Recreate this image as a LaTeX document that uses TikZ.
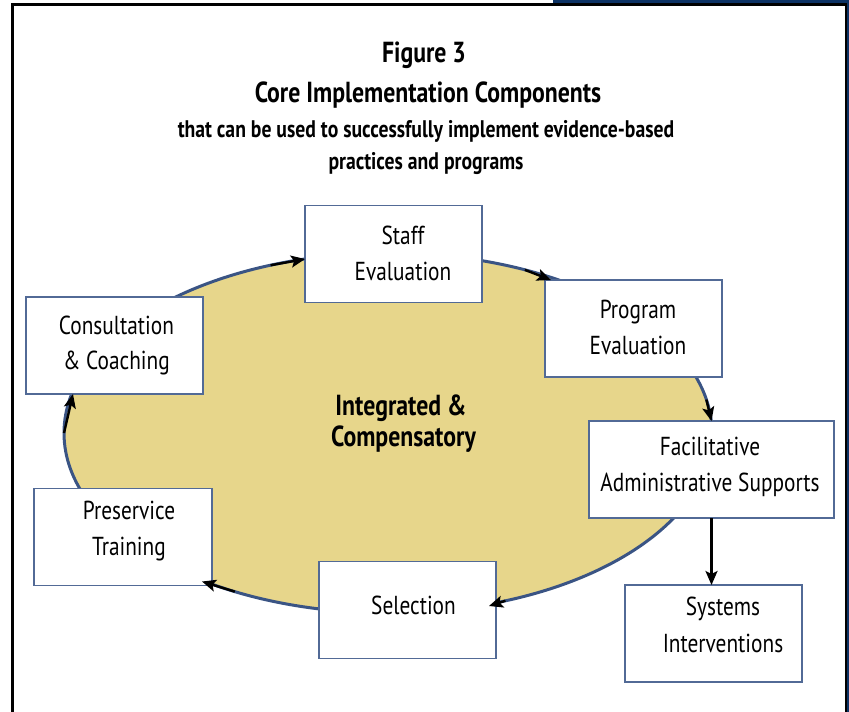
\documentclass[tikz,border=0pt]{standalone}
\usepackage{fontspec}
\setmainfont{PT Sans}
\newfontfamily\cond[FakeStretch=0.82]{PT Sans}
\usetikzlibrary{shapes.geometric,arrows.meta,calc}
\definecolor{tanfill}{RGB}{231,214,139}
\definecolor{ellnavy}{RGB}{58,84,132}
\definecolor{boxblue}{RGB}{82,106,150}
\definecolor{bandnavy}{RGB}{12,50,100}
\begin{document}
\begin{tikzpicture}[x=1pt,y=-1pt,
  box/.style={draw=boxblue, fill=white, line width=1.6pt, minimum width=177pt, minimum height=97pt, inner sep=0, outer sep=0},
  lbl/.style={anchor=base, inner sep=0, font=\cond\fontsize{26}{30}\selectfont},
  ttl/.style={anchor=base, inner sep=0},
  arr/.style={line width=2.4pt, -{Stealth[length=14pt,width=12pt,inset=3pt]}}]
\useasboundingbox (0,0) rectangle (849,712);
% frame
\fill[bandnavy] (553,0) rectangle (849,3.4);
\fill[bandnavy] (847,0) rectangle (849,712);
\draw[line width=2.8pt] (12.3,720) -- (12.3,4.5) -- (846,4.5) -- (846,720);
% title
\node[ttl, font=\cond\bfseries\fontsize{29}{30}\selectfont] (t1) at (424,62) {Figure 3};
\node[ttl, font=\cond\bfseries\fontsize{29}{30}\selectfont] (t2) at (428,102) {Core Implementation Components};
\node[ttl, font=\cond\bfseries\fontsize{24}{26}\selectfont] (t3) at (426,137) {that can be used to successfully implement evidence-based};
\node[ttl, font=\cond\bfseries\fontsize{24}{26}\selectfont] (t4) at (426,169) {practices and programs};
% ellipse
\node[draw=ellnavy, fill=tanfill, line width=3pt, ellipse, minimum width=648pt, minimum height=360pt, inner sep=0, outer sep=0] (ell) at (388,433) {};
% boxes
\node[box] (staff) at (393.5,254) {};
\node[box] (program) at (633.5,328.5) {};
\node[box, minimum width=245pt] (facil) at (711.5,469.5) {};
\node[box] (systems) at (713.5,633.5) {};
\node[box] (selection) at (407.5,610) {};
\node[box, minimum width=178pt] (preservice) at (123,537) {};
\node[box] (consult) at (114.5,345.5) {};
% arrows
\draw[arr] (ell.125) -- ([yshift=-5pt]staff.west);
\draw[arr] (ell.50) -- ([xshift=6pt]program.north west);
\draw[arr] (ell.6.5) -- (facil.north);
\draw[arr] (facil.south) -- (facil.south |- systems.north);
\draw[arr] (ell.305) -- ([xshift=-7pt,yshift=4pt]selection.east);
\draw[arr] (ell.226) -- ([xshift=-10pt,yshift=4pt]preservice.south east);
\draw[arr] (ell.180) -- ([xshift=-41.5pt]consult.south);
% texts
\node[lbl] (staffA) at (403,244) {Staff};
\node[lbl] (staffB) at (403,280) {Evaluation};
\node[lbl] (progA) at (638,318) {Program};
\node[lbl] (progB) at (638,354) {Evaluation};
\node[lbl] (facA) at (710,455) {Facilitative};
\node[lbl] (facB) at (710,491) {Administrative Supports};
\node[lbl] (sysA) at (723,615) {Systems};
\node[lbl] (sysB) at (723,652) {Interventions};
\node[lbl] (selA) at (413.5,614) {Selection};
\node[lbl] (preA) at (129,519) {Preservice};
\node[lbl] (preB) at (129,555) {Training};
\node[lbl] (conA) at (116.5,334) {Consultation};
\node[lbl] (conB) at (116.5,369) {\& Coaching};
\node[ttl, font=\cond\bfseries\fontsize{29}{34}\selectfont] (midA) at (401,415) {Integrated \&};
\node[ttl, font=\cond\bfseries\fontsize{29}{34}\selectfont] (midB) at (403.5,446) {Compensatory};
\end{tikzpicture}
\end{document}
